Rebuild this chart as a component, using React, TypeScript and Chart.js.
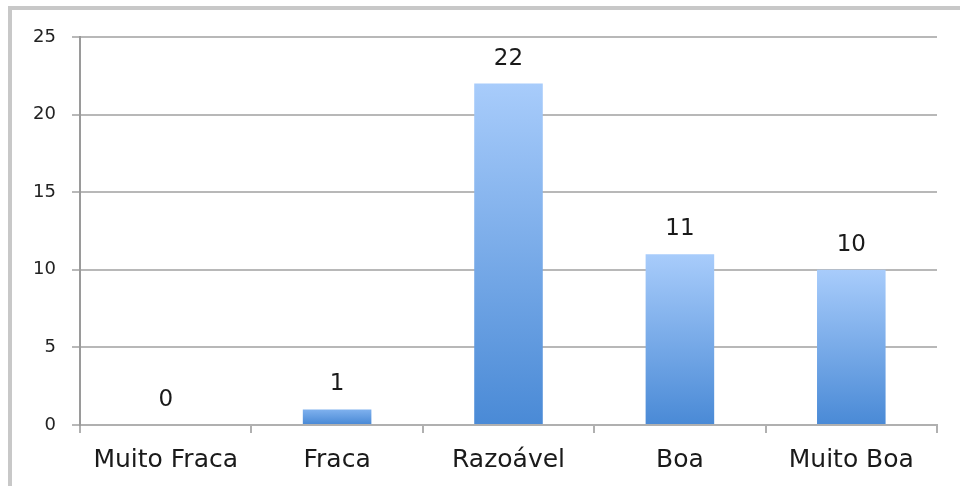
import React, { useEffect, useRef } from "react";
import { Chart, registerables } from "chart.js";

Chart.register(...registerables);

const categories = ["Muito Fraca", "Fraca", "Razoável", "Boa", "Muito Boa"];
const values = [0, 1, 22, 11, 10];
const yTicks = [0, 5, 10, 15, 20, 25];

const FONT = "'DejaVu Sans', sans-serif";

const framePlugin = {
  id: "frame",
  beforeDraw(chart: any) {
    const ctx = chart.ctx;
    ctx.save();
    ctx.fillStyle = "#ffffff";
    ctx.fillRect(0, 0, chart.width, chart.height);
    ctx.fillStyle = "#c8c8c8";
    ctx.fillRect(8, 6, chart.width - 8, 4);
    ctx.fillRect(8, 6, 4, chart.height - 6);
    ctx.restore();
  },
};

const gradientPlugin = {
  id: "barGradient",
  beforeDatasetsDraw(chart: any) {
    const meta = chart.getDatasetMeta(0);
    meta.data.forEach((bar: any) => {
      const top = bar.y;
      const bot = bar.base;
      if (!isFinite(top) || !isFinite(bot) || bot - top < 1) return;
      const g = chart.ctx.createLinearGradient(0, top, 0, bot);
      const h = bot - top;
      g.addColorStop(0, h < 40 ? "#7fb1ee" : "#a8ccfb");
      g.addColorStop(1, "#4a8ad6");
      bar.options = Object.assign({}, bar.options, { backgroundColor: g });
    });
  },
};

const labelPlugin = {
  id: "valueLabels",
  afterDatasetsDraw(chart: any) {
    const ctx = chart.ctx;
    const meta = chart.getDatasetMeta(0);
    ctx.save();
    ctx.fillStyle = "#1a1a1a";
    ctx.font = `23px ${FONT}`;
    ctx.textAlign = "center";
    ctx.textBaseline = "middle";
    meta.data.forEach((bar: any, i: number) => {
      ctx.fillText(String(values[i]), bar.x, bar.y - 25);
    });
    ctx.restore();
  },
};

export default function App() {
  const ref = useRef<HTMLCanvasElement>(null);
  useEffect(() => {
    if (!ref.current) return;
    const chart = new Chart(ref.current, {
      type: "bar",
      data: {
        labels: categories,
        datasets: [
          {
            data: values,
            backgroundColor: () => "#5b97de",
            borderWidth: 0,
            barPercentage: 0.4,
            categoryPercentage: 1,
          },
        ],
      },
      options: {
        animation: false,
        responsive: false,
        maintainAspectRatio: false,
        layout: { padding: { left: 0, top: 37, right: 23, bottom: 0 } },
        plugins: {
          legend: { display: false },
          tooltip: { enabled: false },
          title: { display: false },
        },
        scales: {
          x: {
            offset: true,
            grid: {
              display: true,
              offset: true,
              drawOnChartArea: false,
              drawTicks: true,
              tickLength: 8,
              color: "#b0b0b0",
              lineWidth: 2,
            },
            border: { display: true, color: "#b0b0b0", width: 2 },
            ticks: {
              color: "#1a1a1a",
              font: { family: FONT, size: 25 },
              padding: 12,
              maxRotation: 0,
              autoSkip: false,
            },
            afterFit: (s: any) => {
              s.height = 61;
            },
          },
          y: {
            min: 0,
            max: 25,
            afterBuildTicks: (s: any) => {
              s.ticks = yTicks.map((v) => ({ value: v }));
            },
            grid: {
              color: "#b8b8b8",
              lineWidth: 2,
              drawTicks: true,
              tickLength: 8,
            },
            border: { display: true, color: "#9a9a9a", width: 2 },
            ticks: {
              color: "#222222",
              font: { family: FONT, size: 18 },
              padding: 16,
            },
            afterFit: (s: any) => {
              s.width = 80;
            },
          },
        },
      },
      plugins: [framePlugin, gradientPlugin, labelPlugin],
    });
    return () => chart.destroy();
  }, []);
  return (
    <div style={{ position: "fixed", left: 0, top: 0, width: 960, height: 486, background: "#fff" }}>
      <canvas ref={ref} width={960} height={486} style={{ width: 960, height: 486, display: "block" }} />
    </div>
  );
}
